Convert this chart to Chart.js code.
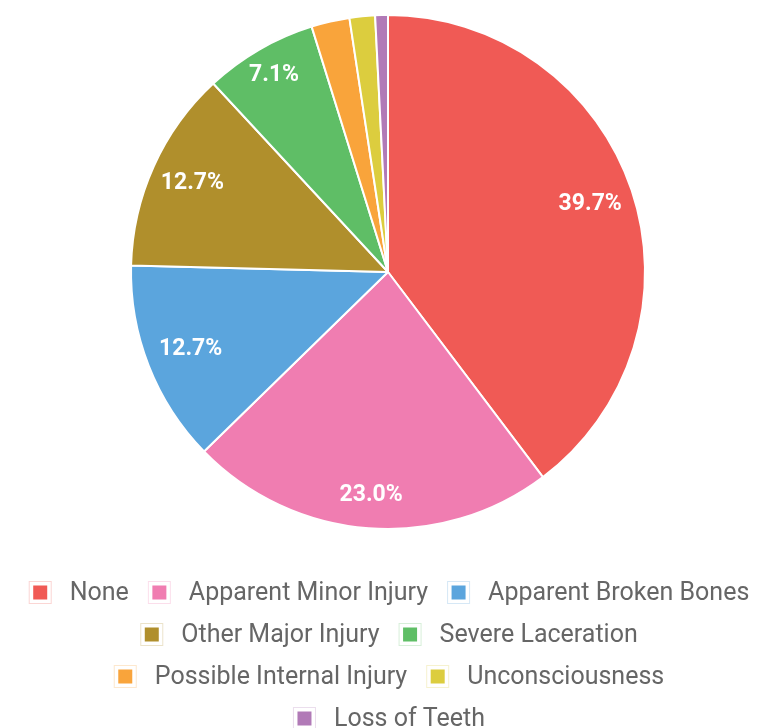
<!DOCTYPE html>
<html>
<head>
    <title>Injury Type Pie</title>
    <script src="https://cdn.jsdelivr.net/npm/chart.js"></script>
    <style>
        html, body { margin: 0; padding: 0; background: #fff; overflow: hidden; }
        #wrap { width: 760px; height: 728px; margin-left: 8px; }
    </style>
</head>
<body>
    <div id="wrap"><canvas id="injuryChart"></canvas></div>
    <script>
        var labels = ['None', 'Apparent Minor Injury', 'Apparent Broken Bones', 'Other Major Injury',
                      'Severe Laceration', 'Possible Internal Injury', 'Unconsciousness', 'Loss of Teeth'];
        var shares = [39.7, 23.0, 12.7, 12.7, 7.1, 2.4, 1.6, 0.8];
        var colors = ['#f05a55', '#f07db1', '#5ba5dd', '#b08f2c', '#5fbe66', '#f9a43b', '#dccd3e', '#b17ab7'];

        // how far out along the radius each percent label sits
        var labelRadius = [0.83, 0.87, 0.825, 0.835, 0.885, 0, 0, 0];

        var pctLabels = {
            id: 'pctLabels',
            afterDatasetsDraw: function (chart) {
                var ctx = chart.ctx;
                var meta = chart.getDatasetMeta(0);
                ctx.save();
                ctx.font = 'bold 23px Roboto';
                ctx.fillStyle = '#ffffff';
                ctx.textAlign = 'center';
                ctx.textBaseline = 'middle';
                meta.data.forEach(function (arc, i) {
                    if (shares[i] < 5) return;
                    var mid = (arc.startAngle + arc.endAngle) / 2;
                    var r = arc.outerRadius * labelRadius[i];
                    ctx.fillText(shares[i].toFixed(1) + '%', arc.x + Math.cos(mid) * r, arc.y + Math.sin(mid) * r);
                });
                ctx.restore();
            }
        };

        // chart.js leaves the legend boxes blank, small squares drawn here
        var legendSquares = {
            id: 'legendSquares',
            afterDraw: function (chart) {
                var lg = chart.legend;
                if (!lg || !lg.legendHitBoxes) return;
                var ctx = chart.ctx;
                ctx.save();
                lg.legendHitBoxes.forEach(function (hb, i) {
                    var cy = hb.top + hb.height / 2 - 1;
                    ctx.globalAlpha = 0.25;
                    ctx.strokeStyle = colors[i];
                    ctx.lineWidth = 1;
                    ctx.strokeRect(hb.left + 2.5, cy - 11, 22, 22);
                    ctx.globalAlpha = 1;
                    ctx.fillStyle = colors[i];
                    ctx.fillRect(hb.left + 6.5, cy - 7, 14, 14);
                });
                ctx.restore();
            }
        };

        new Chart(document.getElementById('injuryChart'), {
            type: 'pie',
            data: {
                labels: labels,
                datasets: [{
                    data: shares,
                    backgroundColor: colors,
                    borderColor: '#ffffff',
                    borderWidth: 2
                }]
            },
            options: {
                responsive: true,
                maintainAspectRatio: false,
                animation: false,
                layout: { padding: { top: 14, bottom: -14 } },
                plugins: {
                    tooltip: { enabled: false },
                    legend: {
                        position: 'bottom',
                        title: { display: true, text: ' ', font: { size: 10 }, padding: { top: 22, bottom: 0 } },
                        labels: {
                            font: { family: 'Roboto', size: 25 },
                            color: '#68717a',
                            boxWidth: 30.5,
                            boxHeight: 25,
                            padding: 17,
                            generateLabels: function (chart) {
                                return labels.map(function (t, i) {
                                    return { text: t, fillStyle: 'rgba(0,0,0,0)', strokeStyle: 'rgba(0,0,0,0)', lineWidth: 0, index: i, hidden: false };
                                });
                            }
                        }
                    }
                }
            },
            plugins: [pctLabels, legendSquares]
        });
    </script>
</body>
</html>
